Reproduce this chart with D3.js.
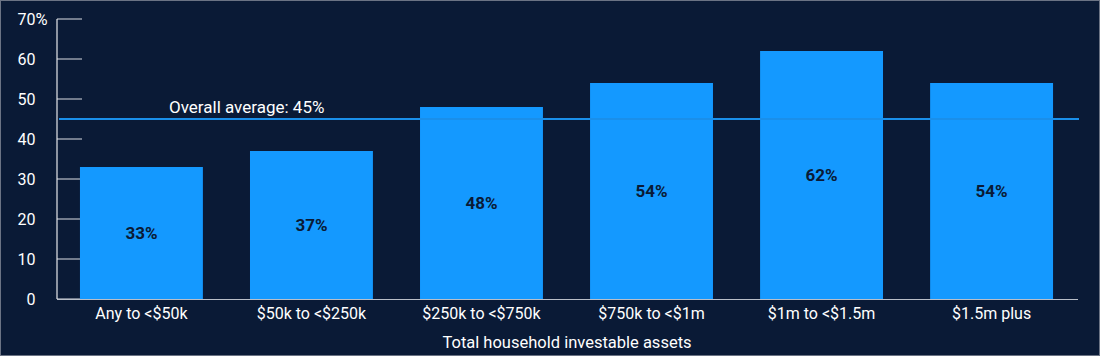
<!DOCTYPE html>
<html><head><meta charset="utf-8">
<script src="https://cdn.jsdelivr.net/npm/d3@7"></script>
<style>html,body{margin:0;padding:0;background:#0a1a36;overflow:hidden}svg{display:block}text{font-family:Roboto,"Noto Sans",sans-serif}</style>
</head><body>
<svg id="c" width="1100" height="356"></svg>
<script>
const categories = ["Any to <$50k","$50k to <$250k","$250k to <$750k","$750k to <$1m","$1m to <$1.5m","$1.5m plus"];
const values = [33,37,48,54,62,54];
const yTicks = [0,10,20,30,40,50,60,70];
const average = 45;
const averageLabel = "Overall average: 45%";
const xTitle = "Total household investable assets";

const svg = d3.select("#c");
const W = 1100, H = 356;
svg.append("rect").attr("width",W).attr("height",H).attr("fill","#0a1a36");
svg.append("rect").attr("x",0.5).attr("y",0.5).attr("width",W-1).attr("height",H-1).attr("fill","none").attr("stroke","#6b7384").attr("stroke-width",1);

const x = d3.scaleBand().domain(categories).range([57,1076]).paddingInner(0.277).paddingOuter(0.135);
const y = d3.scaleLinear().domain([0,70]).range([299,19]);

// y ticks
const yAxis = svg.append("g");
yAxis.selectAll("line.t").data(yTicks).join("line")
  .attr("x1",57).attr("x2",82).attr("y1",d=>y(d)).attr("y2",d=>y(d))
  .attr("stroke","#b9bec8").attr("stroke-width",1.2);
yAxis.selectAll("text.n").data(yTicks).join("text")
  .attr("x",35.5).attr("y",d=>y(d)).attr("dy","0.35em").attr("text-anchor","end")
  .attr("fill","#ffffff").attr("font-size",16).text(d=>d);
yAxis.append("text").attr("x",35.5).attr("y",y(70)).attr("dy","0.35em")
  .attr("fill","#ffffff").attr("font-size",16.5).text("%");
yAxis.append("line").attr("x1",57).attr("x2",57).attr("y1",y(70)).attr("y2",y(0))
  .attr("stroke","#e6e8ec").attr("stroke-width",1.2);

// bars
svg.selectAll("rect.bar").data(values).join("rect")
  .attr("class","bar")
  .attr("x",(d,i)=>x(categories[i])).attr("width",x.bandwidth())
  .attr("y",d=>y(d)).attr("height",d=>y(0)-y(d))
  .attr("fill","#1499ff");

// bar labels
svg.selectAll("text.bl").data(values).join("text")
  .attr("x",(d,i)=>x(categories[i])+x.bandwidth()/2)
  .attr("y",d=>(y(d)+y(0))/2).attr("dy","0.35em").attr("text-anchor","middle")
  .attr("fill","#0a1a36").attr("font-size",17).attr("font-weight","bold")
  .text(d=>d+"%");

// average line
svg.append("line").attr("x1",59).attr("x2",1079).attr("y1",y(average)).attr("y2",y(average))
  .attr("stroke","#1a8fea").attr("stroke-width",2);
svg.append("text").attr("x",169).attr("y",y(average)-12).attr("dy","0.35em")
  .attr("fill","#ffffff").attr("font-size",17).text(averageLabel);

// x axis line
svg.append("line").attr("x1",57).attr("x2",1078).attr("y1",y(0)+0.5).attr("y2",y(0)+0.5)
  .attr("stroke","#b9bec8").attr("stroke-width",1.2);

// x labels
svg.selectAll("text.xl").data(categories).join("text")
  .attr("x",d=>x(d)+x.bandwidth()/2).attr("y",313).attr("dy","0.35em").attr("text-anchor","middle")
  .attr("fill","#ffffff").attr("font-size",16).text(d=>d);

svg.append("text").attr("x",567).attr("y",342).attr("dy","0.35em").attr("text-anchor","middle")
  .attr("fill","#ffffff").attr("font-size",16.5).text(xTitle);
</script>
</body></html>
